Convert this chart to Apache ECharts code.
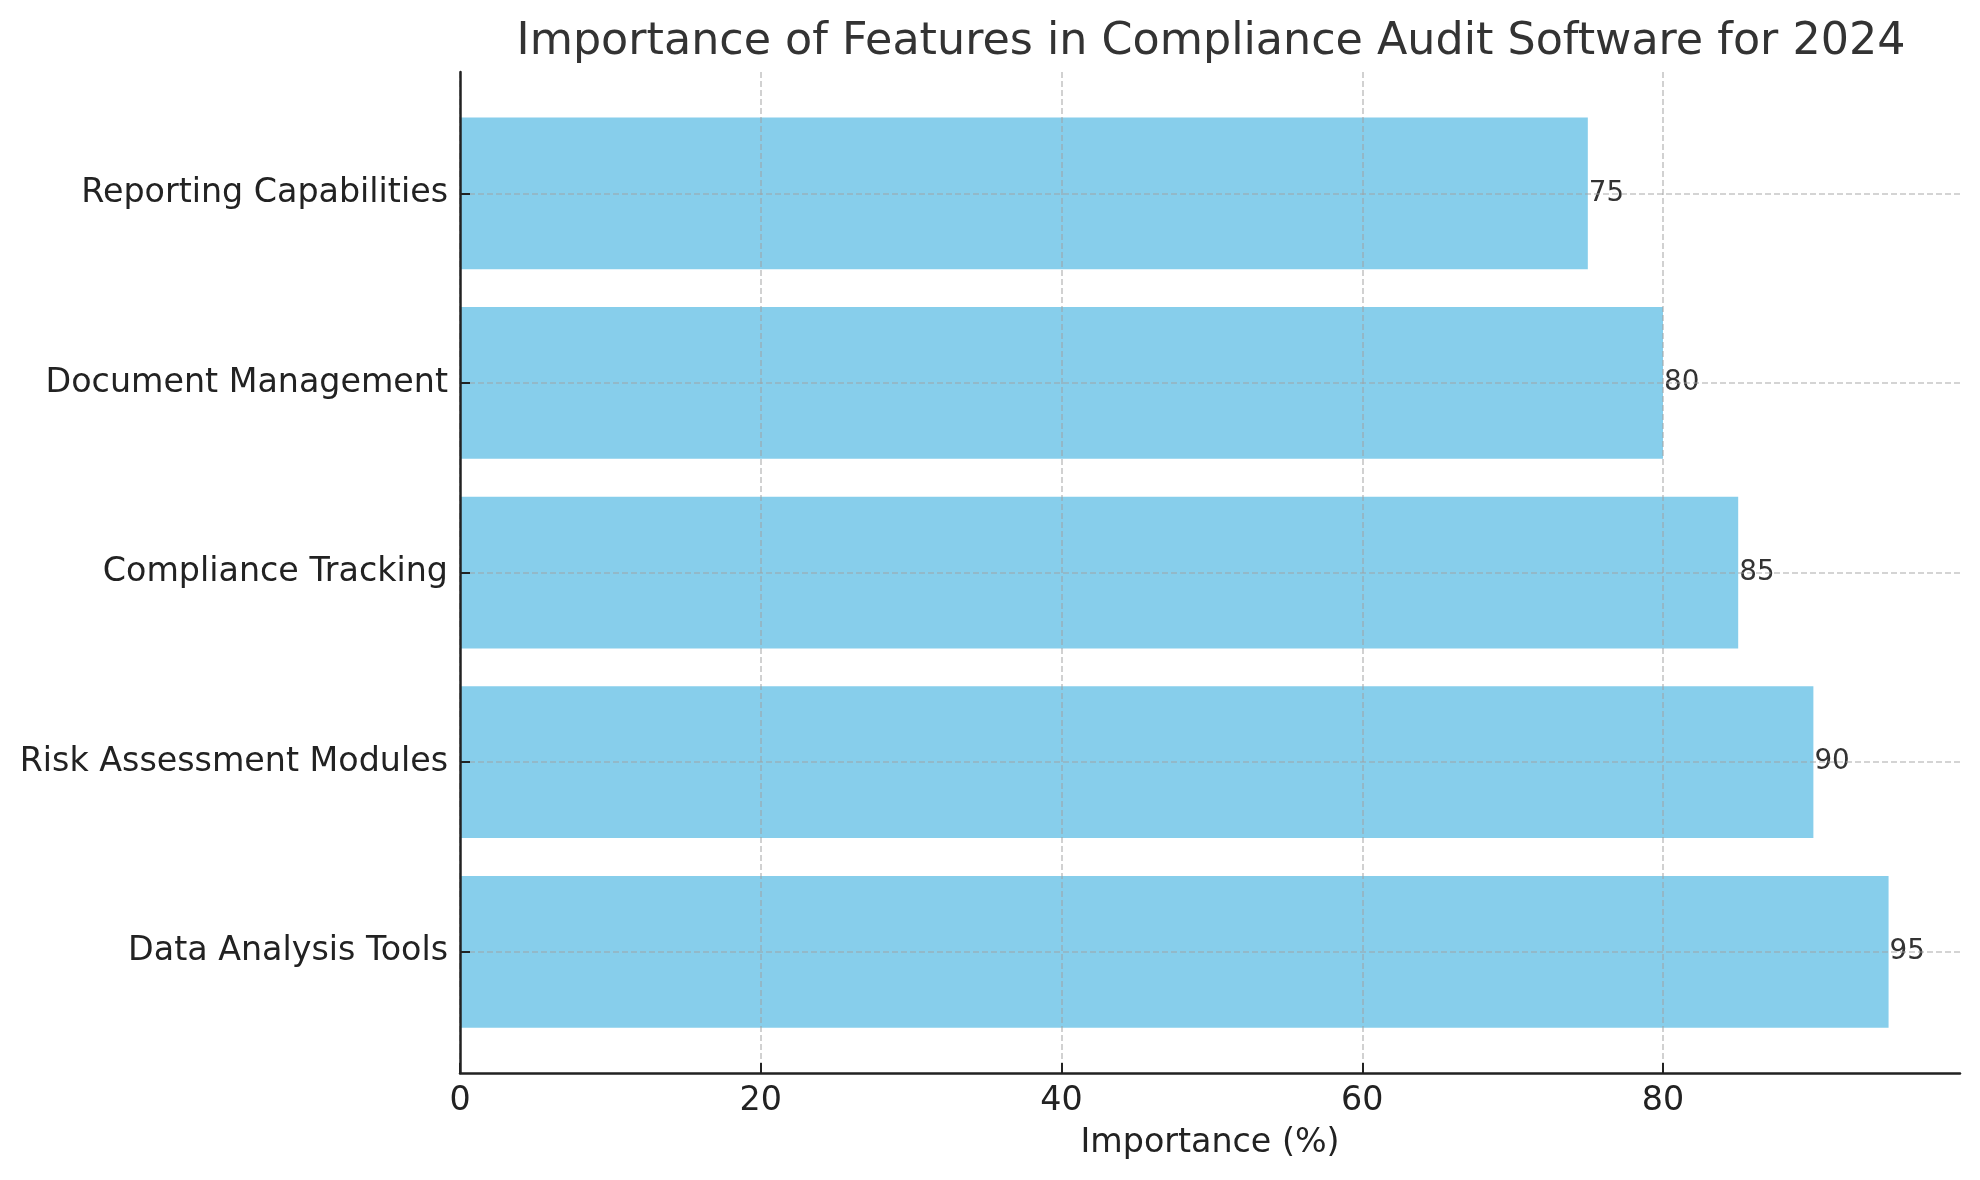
<!DOCTYPE html>
<html>
<head>
<meta charset="utf-8">
<script src="https://cdn.jsdelivr.net/npm/echarts@6/dist/echarts.min.js"></script>
<style>html,body{margin:0;padding:0;background:#fff;}#c{width:1980px;height:1180px;}</style>
</head>
<body>
<div id="c"></div>
<script>
var categories = ['Data Analysis Tools', 'Risk Assessment Modules', 'Compliance Tracking', 'Document Management', 'Reporting Capabilities'];
var importance = [95, 90, 85, 80, 75];
var xTicks = [0, 20, 40, 60, 80];
var xMax = 99.75;

var FONT = 'DejaVu Sans';
var gridLine = { show: true, showMinLine: true, showMaxLine: true, lineStyle: { color: 'rgba(160,160,160,0.6)', width: 1.6, type: [6, 3] } };

var chart = echarts.init(document.getElementById('c'), null, { renderer: 'canvas' });
chart.setOption({
  backgroundColor: '#ffffff',
  animation: false,
  title: {
    text: 'Importance of Features in Compliance Audit Software for 2024',
    left: 1206, top: 15, textAlign: 'center',
    textStyle: { fontFamily: FONT, fontSize: 44.4, fontWeight: 'normal', color: '#333333' }
  },
  grid: [
    { left: 460, right: 20, top: 72, bottom: 107, containLabel: false },
    { left: 460, right: 20, top: 193.3, bottom: 228.2, containLabel: false }
  ],
  xAxis: [
    {
      gridIndex: 0, type: 'value', min: 0, max: xMax, interval: 20, z: 3,
      name: 'Importance (%)', nameLocation: 'middle', nameGap: 54,
      nameTextStyle: { fontFamily: FONT, fontSize: 33.3, color: '#222222' },
      axisLine: { show: true, lineStyle: { color: '#222222', width: 2.5 } },
      axisTick: { show: true, inside: true, length: 10, customValues: xTicks, lineStyle: { color: '#222222', width: 2 } },
      axisLabel: {
        fontFamily: FONT, fontSize: 33.3, color: '#222222', margin: 12,
        customValues: xTicks,
        formatter: function (v) { return xTicks.indexOf(v) >= 0 ? String(v) : ''; }
      },
      splitLine: gridLine
    },
    { gridIndex: 1, type: 'value', min: 0, max: xMax, show: false }
  ],
  yAxis: [
    {
      gridIndex: 0, type: 'value', min: 0, max: 1, z: 3,
      axisLine: { show: true, lineStyle: { color: '#222222', width: 2.5 } },
      axisTick: { show: false }, axisLabel: { show: false }, splitLine: { show: false }
    },
    {
      gridIndex: 1, type: 'category', data: categories, boundaryGap: false, z: 3,
      axisLine: { show: false },
      axisTick: { show: true, inside: true, length: 10, interval: 0, lineStyle: { color: '#222222', width: 2 } },
      axisLabel: { interval: 0, fontFamily: FONT, fontSize: 33.3, color: '#222222', margin: 12 },
      splitLine: { show: true, interval: 0, lineStyle: gridLine.lineStyle }
    }
  ],
  series: [
    {
      type: 'bar', xAxisIndex: 1, yAxisIndex: 1, data: importance,
      barWidth: 151.7, clip: false,
      itemStyle: { color: '#87CEEB' },
      label: {
        show: true, position: 'right', distance: 1,
        fontFamily: FONT, fontSize: 27.8, color: '#333333'
      }
    }
  ]
});
</script>
</body>
</html>
